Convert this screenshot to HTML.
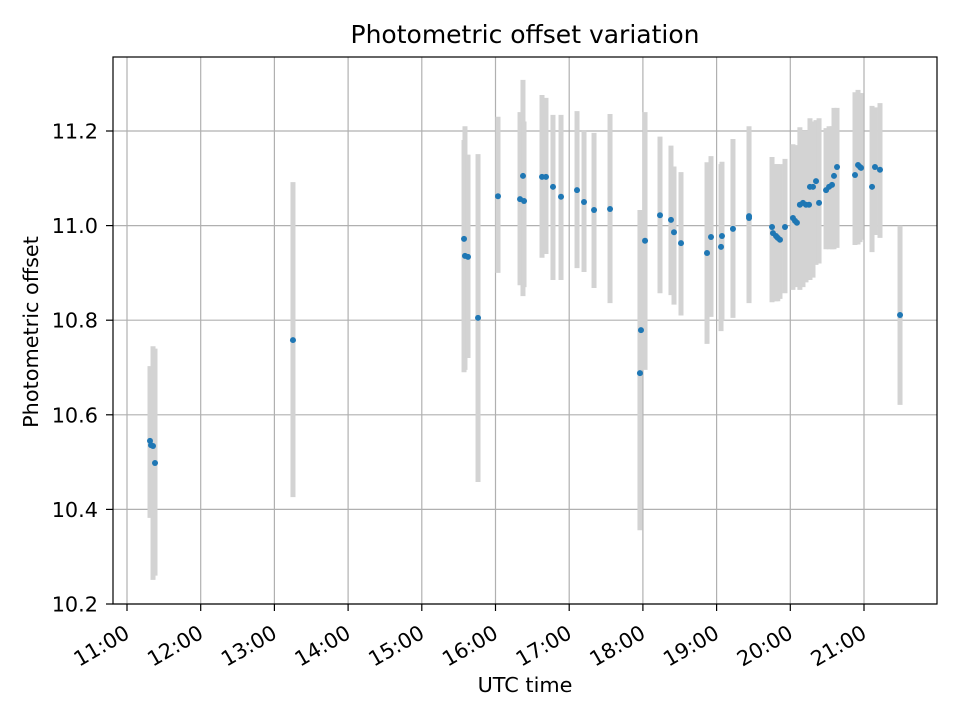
<!DOCTYPE html>
<html><head><meta charset="utf-8"><style>
html,body{margin:0;padding:0;background:#fff;}
svg{display:block;font-family:"DejaVu Sans","Liberation Sans",sans-serif;}
</style></head><body>
<svg id="chart" width="960" height="720" viewBox="0 0 960 720" xmlns="http://www.w3.org/2000/svg">
<rect x="0" y="0" width="960" height="720" fill="#fff"/>
<g id="grid"></g>
<g id="bars"></g>
<g id="points"></g>
<rect x="113" y="57" width="824" height="547" fill="none" stroke="#000" stroke-width="1.2"/>
<g id="xticks"></g>
<g id="yticks"></g>
<text x="525" y="43" text-anchor="middle" font-size="25">Photometric offset variation</text>
<text x="525" y="692" text-anchor="middle" font-size="20.8">UTC time</text>
<text x="38" y="332" text-anchor="middle" font-size="20.8" transform="rotate(-90 38 332)">Photometric offset</text>
</svg>
<script>
const times=[11.312,11.326,11.353,11.380,13.252,15.573,15.586,15.627,15.763,16.034,16.333,16.373,16.387,16.631,16.685,16.78,16.889,17.106,17.201,17.337,17.554,17.96,17.974,18.029,18.232,18.381,18.422,18.517,18.87,18.924,19.06,19.073,19.222,19.44,19.44,19.752,19.765,19.806,19.83,19.86,19.928,20.036,20.064,20.09,20.13,20.172,20.213,20.254,20.267,20.308,20.349,20.39,20.485,20.526,20.566,20.593,20.634,20.878,20.919,20.946,20.96,21.109,21.149,21.217,21.489];
const values=[10.545,10.536,10.534,10.498,10.758,10.972,10.936,10.934,10.805,11.062,11.056,11.105,11.052,11.103,11.103,11.082,11.061,11.075,11.05,11.033,11.035,10.688,10.779,10.968,11.022,11.012,10.986,10.963,10.942,10.976,10.955,10.978,10.993,11.02,11.016,10.997,10.984,10.978,10.974,10.97,10.997,11.016,11.01,11.006,11.044,11.048,11.044,11.044,11.082,11.082,11.094,11.048,11.075,11.082,11.086,11.105,11.124,11.107,11.128,11.124,11.122,11.082,11.124,11.118,10.811];
const lows=[10.382,10.39,10.251,10.26,10.426,10.690,10.695,10.72,10.458,10.90,10.874,10.851,10.87,10.932,10.94,10.885,10.885,10.91,10.902,10.868,10.836,10.356,10.695,10.695,10.857,10.853,10.833,10.81,10.75,10.807,10.777,10.80,10.805,10.836,10.84,10.838,10.84,10.84,10.84,10.845,10.857,10.864,10.87,10.875,10.864,10.87,10.88,10.89,10.885,10.89,10.917,10.92,10.95,10.95,10.95,10.95,10.953,10.959,10.96,10.965,10.97,10.944,10.98,10.974,10.621];
const highs=[10.703,10.70,10.745,10.74,11.092,11.181,11.21,11.15,11.151,11.23,11.24,11.308,11.22,11.276,11.27,11.234,11.234,11.242,11.202,11.196,11.236,11.033,11.033,11.24,11.188,11.169,11.125,11.113,11.134,11.147,11.13,11.135,11.183,11.21,11.2,11.145,11.13,11.13,11.13,11.13,11.141,11.172,11.17,11.17,11.208,11.2,11.2,11.2,11.227,11.22,11.223,11.227,11.206,11.21,11.21,11.249,11.249,11.282,11.287,11.28,11.28,11.253,11.25,11.259,11.0];
const xTickHours=[11,12,13,14,15,16,17,18,19,20,21];
const xTickLabels=["11:00","12:00","13:00","14:00","15:00","16:00","17:00","18:00","19:00","20:00","21:00"];
const yTickValues=[10.2,10.4,10.6,10.8,11.0,11.2];
const yTickLabels=["10.2","10.4","10.6","10.8","11.0","11.2"];

const NS="http://www.w3.org/2000/svg";
const X=t=>127+(t-11)*73.7;
const Y=v=>604-(v-10.2)*473;
function mk(tag,attrs,parent,txt){const e=document.createElementNS(NS,tag);for(const k in attrs)e.setAttribute(k,attrs[k]);if(txt!==undefined)e.textContent=txt;parent.appendChild(e);return e;}
const grid=document.getElementById('grid'),bars=document.getElementById('bars'),pts=document.getElementById('points'),xt=document.getElementById('xticks'),yt=document.getElementById('yticks');
xTickHours.forEach((h,i)=>{
  const x=X(h);
  const g=mk('line',{x1:x,x2:x,y1:57,y2:604,stroke:'#b0b0b0','stroke-width':1.2},grid);
  
  
  const tk=mk('line',{x1:x,x2:x,y1:604,y2:611,stroke:'#000','stroke-width':1.2},xt);
  
  
  const lx=x+4, ly=637;
  const lb=mk('text',{x:lx,y:ly,'text-anchor':'end','font-size':20.8,transform:`rotate(-30 ${lx} ${ly})`},xt,xTickLabels[i]);
  
  
});
yTickValues.forEach((v,i)=>{
  const y=Y(v);
  const g=mk('line',{x1:113,x2:937,y1:y,y2:y,stroke:'#b0b0b0','stroke-width':1.2},grid);
  
  
  const tk=mk('line',{x1:106,x2:113,y1:y,y2:y,stroke:'#000','stroke-width':1.2},yt);
  
  
  const lb=mk('text',{x:98,y:y+7.5,'text-anchor':'end','font-size':20.8},yt,yTickLabels[i]);
  
  
});
times.forEach((t,i)=>{
  const x=X(t);
  const b=mk('line',{x1:x,x2:x,y1:Y(highs[i]),y2:Y(lows[i]),stroke:'#d3d3d3','stroke-width':5},bars);
  
  
});
times.forEach((t,i)=>{
  const c=mk('circle',{cx:X(t),cy:Y(values[i]),r:3,fill:'#1f77b4'},pts);
  
  
});
</script>
</body></html>
